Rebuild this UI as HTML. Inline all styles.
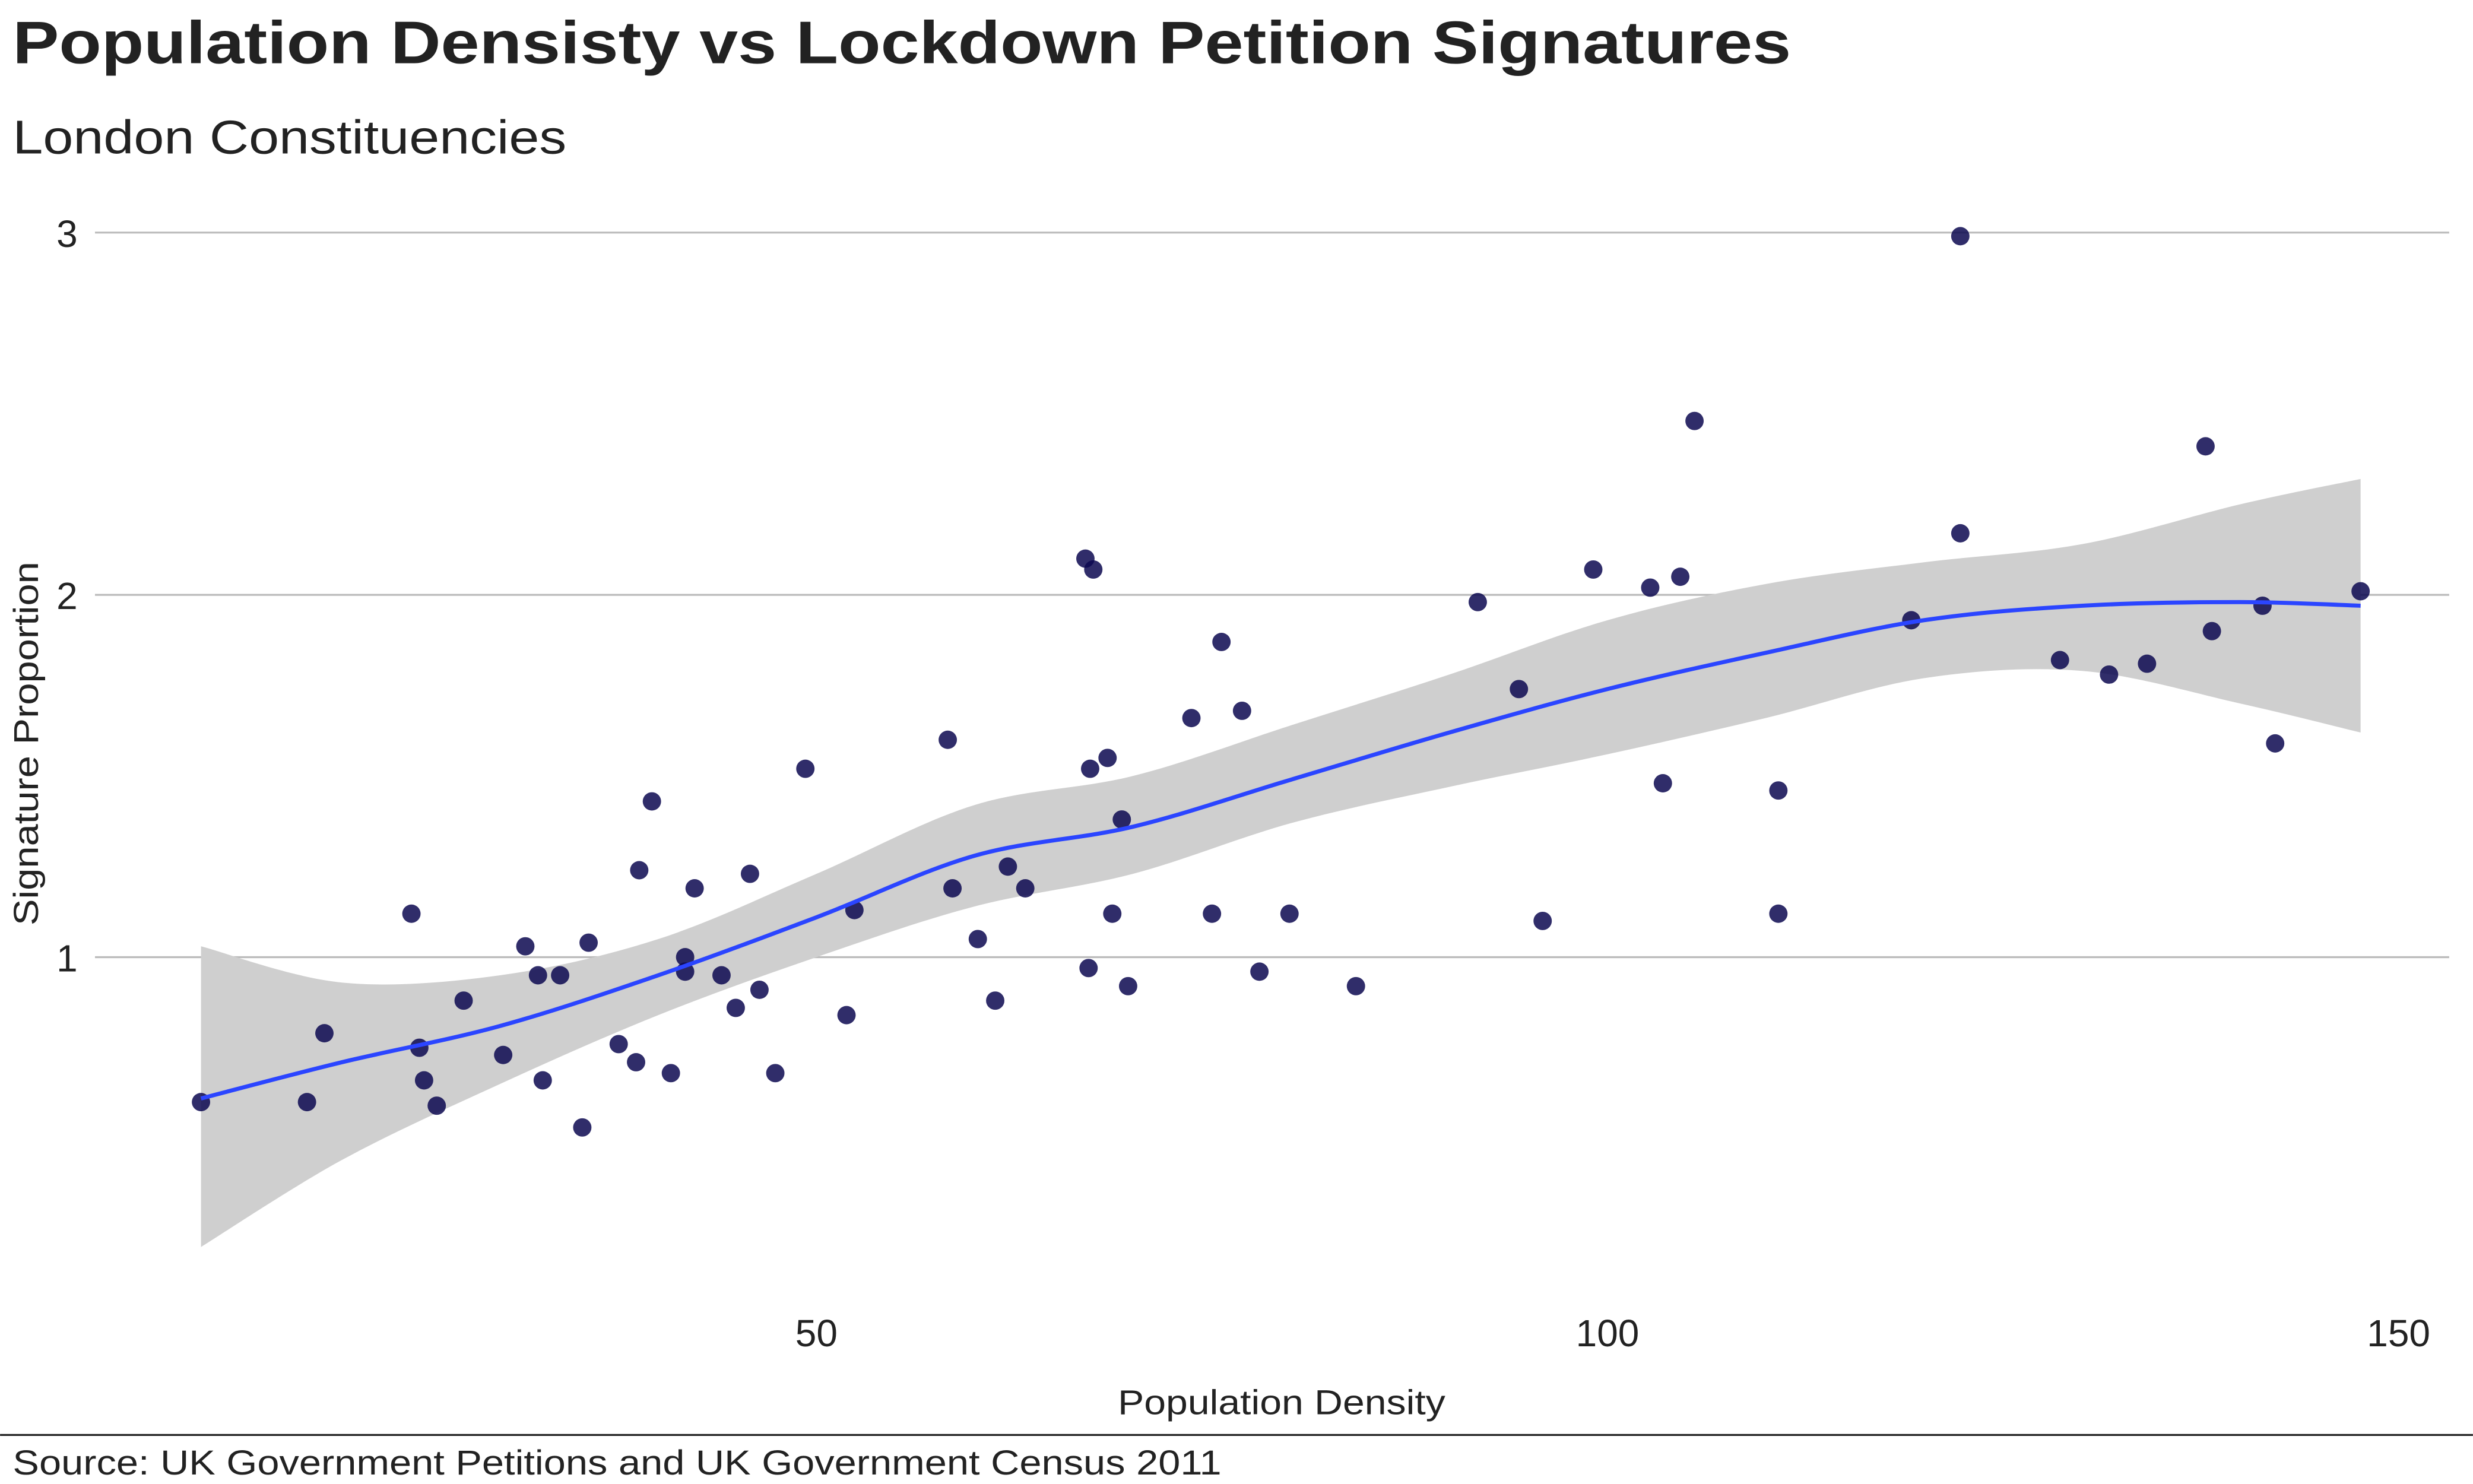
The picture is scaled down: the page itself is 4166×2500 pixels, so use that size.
<!DOCTYPE html>
<html><head><meta charset="utf-8"><style>
html,body{margin:0;padding:0;background:#fff;}
svg{display:block;font-family:"Liberation Sans",Arial,sans-serif;}
</style></head><body>
<svg id="chart" width="4166" height="2500" viewBox="0 0 1563 938" xmlns="http://www.w3.org/2000/svg">
<rect width="1563" height="938" fill="#fff"/>
<text x="8" y="40" font-size="38" font-weight="bold" fill="#222" textLength="1124" lengthAdjust="spacingAndGlyphs">Population Densisty vs Lockdown Petition Signatures</text>
<text x="8" y="97" font-size="30" fill="#222" textLength="350" lengthAdjust="spacingAndGlyphs">London Constituencies</text>
<g id="grid"></g>
<g id="band"></g>
<g id="pts"></g>
<g id="axes"></g>
<text x="810" y="894" font-size="22" text-anchor="middle" fill="#222" textLength="207" lengthAdjust="spacingAndGlyphs">Population Density</text>
<text transform="translate(24,470) rotate(-90)" font-size="22" text-anchor="middle" fill="#222" textLength="230" lengthAdjust="spacingAndGlyphs">Signature Proportion</text>
<line x1="0" y1="907" x2="1563" y2="907" stroke="#222" stroke-width="1.2"/>
<text x="8" y="932" font-size="22" fill="#222" textLength="764" lengthAdjust="spacingAndGlyphs">Source: UK Government Petitions and UK Government Census 2011</text>
</svg>
<script>
const xs=[11.1,17.8,18.9,24.4,24.9,25.2,26.0,27.7,30.2,31.6,32.4,32.7,33.8,35.2,35.6,37.5,38.6,38.8,39.6,40.8,41.7,41.7,42.3,44.0,44.9,45.8,46.4,47.4,49.3,51.9,52.4,58.3,58.6,60.2,61.3,62.1,63.2,67.0,67.2,67.3,67.5,68.4,68.7,69.3,69.7,73.7,75.0,75.6,76.9,78.0,79.9,84.1,91.8,94.4,95.9,99.1,102.7,103.5,104.6,105.5,110.8,110.8,119.2,122.3,122.3,128.6,131.7,134.1,137.8,138.2,141.4,142.2,147.6];
const ys=[0.60,0.60,0.79,1.12,0.75,0.66,0.59,0.88,0.73,1.03,0.95,0.66,0.95,0.53,1.04,0.76,0.71,1.24,1.43,0.68,1.00,0.96,1.19,0.95,0.86,1.23,0.91,0.68,1.52,0.84,1.13,1.60,1.19,1.05,0.88,1.25,1.19,2.10,0.97,1.52,2.07,1.55,1.12,1.38,0.92,1.66,1.12,1.87,1.68,0.96,1.12,0.92,1.98,1.74,1.10,2.07,2.02,1.48,2.05,2.48,1.46,1.12,1.93,2.99,2.17,1.82,1.78,1.81,2.41,1.90,1.97,1.59,2.01];
const fitX=[11.1,20,30,40,50,60,70,80,90,100,110,120,130,140,147.6];
const fitY=[0.61,0.71,0.81,0.95,1.11,1.28,1.36,1.49,1.62,1.74,1.84,1.93,1.97,1.98,1.97];
const fitLo=[0.20,0.44,0.65,0.84,1.00,1.14,1.23,1.37,1.47,1.56,1.66,1.77,1.79,1.70,1.62];
const fitHi=[1.03,0.93,0.95,1.05,1.23,1.42,1.50,1.64,1.78,1.93,2.03,2.09,2.14,2.25,2.32];
const yTicks=[1,2,3];
const xTicks=[50,100,150];
const NS="http://www.w3.org/2000/svg";
const sx=v=>16+v*10, sy=v=>834-v*229;
function mk(t,a,p){const e=document.createElementNS(NS,t);for(const k in a)e.setAttribute(k,a[k]);p.appendChild(e);return e;}
const grid=document.getElementById('grid'),axes=document.getElementById('axes');
yTicks.forEach(t=>{
 const l=mk('line',{x1:60,x2:1548,y1:sy(t),y2:sy(t),stroke:'#bbb','stroke-width':1.2},grid);
 
 
 const tx=mk('text',{x:49,y:sy(t)+9,'font-size':24,'text-anchor':'end',fill:'#222'},axes);
 tx.textContent=t;
 
 
});
xTicks.forEach(t=>{
 const tx=mk('text',{x:sx(t),y:851,'font-size':24,'text-anchor':'middle',fill:'#222'},axes);
 tx.textContent=t;
 
 
});
function smooth(pts){let d='M'+pts[0][0]+','+pts[0][1];for(let i=0;i<pts.length-1;i++){const p0=pts[Math.max(0,i-1)],p1=pts[i],p2=pts[i+1],p3=pts[Math.min(pts.length-1,i+2)];d+=' C'+(p1[0]+(p2[0]-p0[0])/6)+','+(p1[1]+(p2[1]-p0[1])/6)+' '+(p2[0]-(p3[0]-p1[0])/6)+','+(p2[1]-(p3[1]-p1[1])/6)+' '+p2[0]+','+p2[1];}return d;}
const band=document.getElementById('band');
const hi=fitX.map((x,i)=>[sx(x),sy(fitHi[i])]);
const lo=fitX.map((x,i)=>[sx(x),sy(fitLo[i])]).reverse();
const bd=smooth(hi)+' L'+smooth(lo).slice(1)+' Z';
const bp=mk('path',{d:bd,fill:'#cfcfcf'},band);


const pts=document.getElementById('pts');
xs.forEach((x,i)=>{
 const c=mk('circle',{cx:sx(x),cy:sy(ys[i]),r:5.8,fill:'#0c0850','fill-opacity':0.85},pts);
 
 
});
const lp=mk('path',{d:smooth(fitX.map((x,i)=>[sx(x),sy(fitY[i])])),fill:'none',stroke:'#2b45ff','stroke-width':2.6},pts);


</script>
</body></html>
